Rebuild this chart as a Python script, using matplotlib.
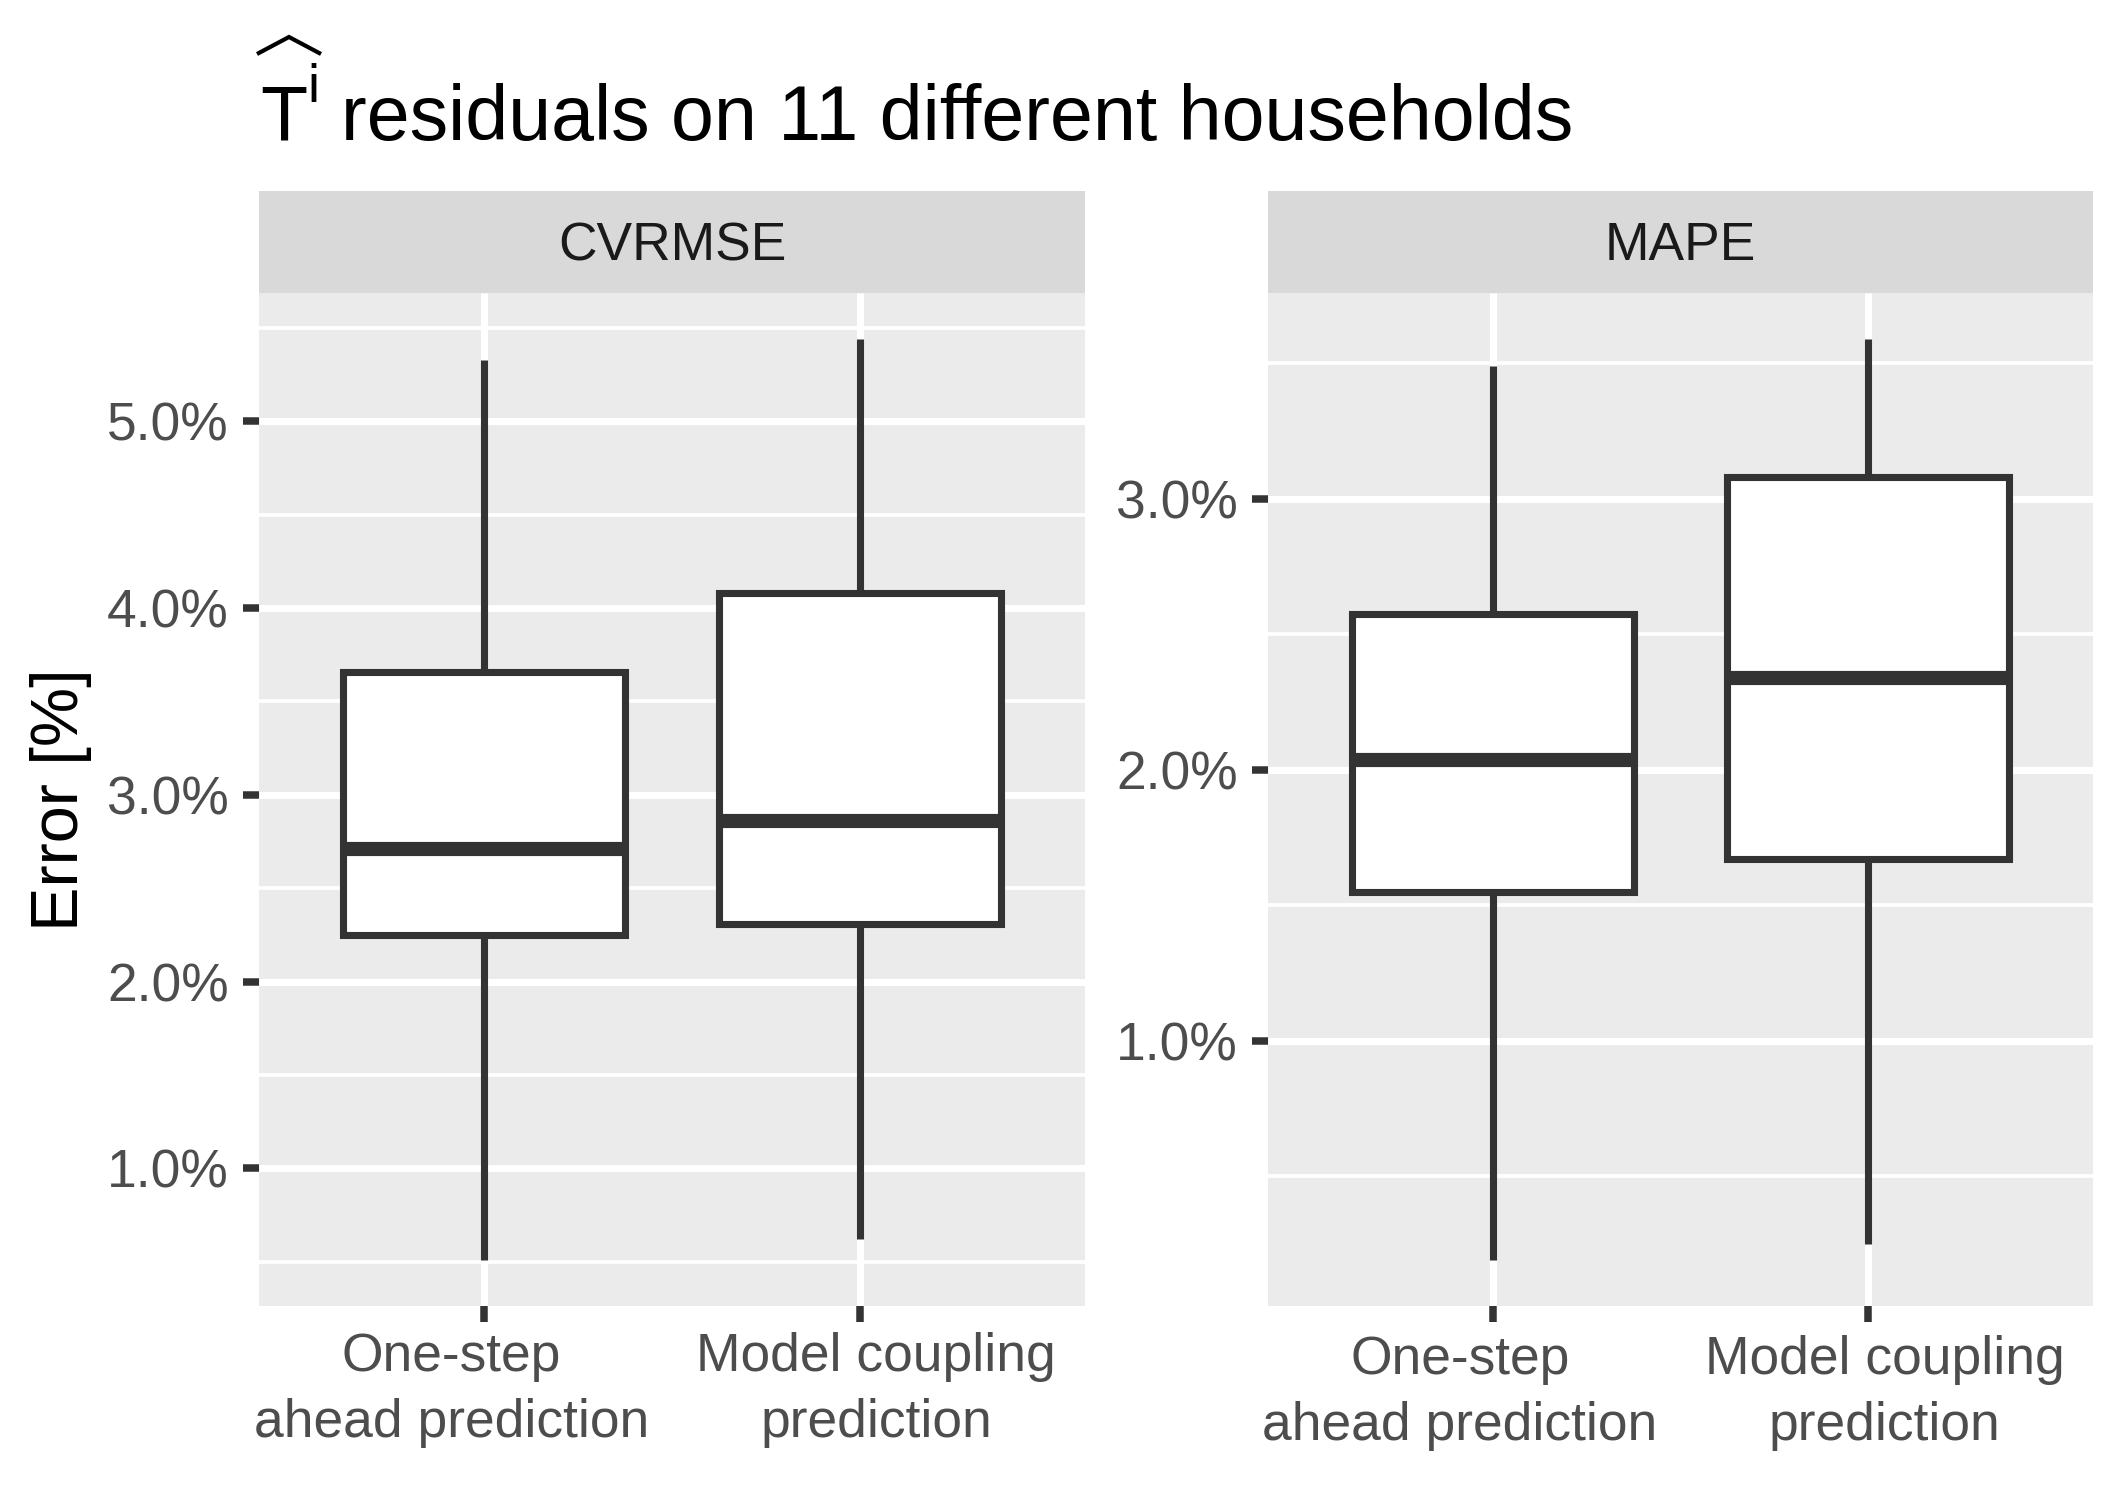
import matplotlib
matplotlib.use("Agg")
import matplotlib.pyplot as plt
from matplotlib.ticker import MultipleLocator, StrMethodFormatter
from matplotlib.transforms import ScaledTranslation
from matplotlib.lines import Line2D

plt.rcParams['font.family'] = ['Liberation Sans', 'DejaVu Sans']
plt.rcParams['lines.solid_capstyle'] = 'butt'

# ---- data (percent) ----
categories = ["One-step\nahead prediction", "Model coupling\nprediction"]
facets = ["CVRMSE", "MAPE"]

cvrmse_whislo = [0.51, 0.62]
cvrmse_q1 = [2.25, 2.31]
cvrmse_med = [2.71, 2.86]
cvrmse_q3 = [3.66, 4.08]
cvrmse_whishi = [5.33, 5.44]

mape_whislo = [0.19, 0.25]
mape_q1 = [1.55, 1.67]
mape_med = [2.035, 2.34]
mape_q3 = [2.575, 3.08]
mape_whishi = [3.49, 3.59]

title_symbol = "T"
title_sup = "i"
title_rest = "residuals on 11 different households"
ylabel = "Error [%]"

W, H = 2127, 1501
DPI = 300
fig = plt.figure(figsize=(W / DPI, H / DPI), dpi=DPI)

DARK = '#333333'
panel_bottom = 1 - 1306 / H
panel_h = (1306 - 293) / H
strip_bottom = 1 - 293 / H
strip_h = (293 - 191) / H
lefts = [259 / W, 1268 / W]
widths = [826 / W, 825 / W]
label_dy = [-26 / DPI, -29 / DPI]          # inches below panel
label_dx = [-33 / DPI, 16.5 / DPI]         # per-category horizontal shift

stats_sets = [
    (cvrmse_whislo, cvrmse_q1, cvrmse_med, cvrmse_q3, cvrmse_whishi),
    (mape_whislo, mape_q1, mape_med, mape_q3, mape_whishi),
]

for i, facet in enumerate(facets):
    lo, q1, med, q3, hi = stats_sets[i]
    ax = fig.add_axes([lefts[i], panel_bottom, widths[i], panel_h])
    ax.set_facecolor('#EBEBEB')
    for s in ax.spines.values():
        s.set_visible(False)
    positions = list(range(1, len(categories) + 1))
    stats = []
    for k in range(len(categories)):
        stats.append(dict(whislo=lo[k], q1=q1[k], med=med[k], q3=q3[k],
                          whishi=hi[k], fliers=[], label=categories[k]))
    ax.bxp(stats, positions=positions, widths=0.75, patch_artist=True,
           showcaps=False, showfliers=False,
           boxprops=dict(facecolor='white', edgecolor=DARK, linewidth=1.7),
           medianprops=dict(color=DARK, linewidth=3.4, solid_capstyle='butt'),
           whiskerprops=dict(color=DARK, linewidth=1.7))
    ymin, ymax = min(lo), max(hi)
    pad = 0.05 * (ymax - ymin)
    ax.set_ylim(ymin - pad, ymax + pad)
    ax.set_xlim(0.4, 2.6)
    ax.set_xticks(positions)
    ax.set_xticklabels([''] * len(categories))
    base_tr = ax.get_xaxis_transform()
    for k, cat in enumerate(categories):
        tr = base_tr + ScaledTranslation(label_dx[k], label_dy[i],
                                         fig.dpi_scale_trans)
        ax.text(positions[k], 0, cat, transform=tr, ha='center', va='top',
                multialignment='center', linespacing=1.42, fontsize=12.8,
                color='#4D4D4D', clip_on=False)
    ax.yaxis.set_major_locator(MultipleLocator(1.0))
    ax.yaxis.set_minor_locator(MultipleLocator(0.5))
    ax.yaxis.set_major_formatter(StrMethodFormatter('{x:.1f}%'))
    ax.set_axisbelow(True)
    ax.grid(which='major', color='white', linewidth=1.7)
    ax.grid(which='minor', axis='y', color='white', linewidth=0.9)
    ax.tick_params(which='major', length=3.84, width=1.8, color=DARK,
                   labelcolor='#4D4D4D', labelsize=12.8)
    ax.tick_params(axis='y', which='major', pad=3.4)
    ax.tick_params(which='minor', length=0)

    sax = fig.add_axes([lefts[i], strip_bottom, widths[i], strip_h])
    sax.set_facecolor('#D9D9D9')
    sax.set_xticks([])
    sax.set_yticks([])
    for s in sax.spines.values():
        s.set_visible(False)
    sax.text(0.5, 0.46, facet, transform=sax.transAxes, ha='center',
             va='center', fontsize=12.8, color='#1A1A1A')

fig.text(61 / W, panel_bottom + panel_h / 2, ylabel, rotation=90,
         ha='center', va='center', fontsize=16, color='black')

# title: hat(T)^i residuals ...
fig.text(260 / W, 1 - 140 / H, title_symbol, ha='left', va='baseline',
         fontsize=18.5, color='black')
fig.text(307 / W, 1 - 102 / H, title_sup, ha='left', va='baseline',
         fontsize=12.8, color='black')
fig.add_artist(Line2D([257 / W, 289 / W, 321 / W],
                      [1 - 54 / H, 1 - 37 / H, 1 - 54 / H],
                      transform=fig.transFigure, color='black',
                      linewidth=1.0, solid_joinstyle='miter'))
fig.text(341 / W, 1 - 140 / H, title_rest, ha='left', va='baseline',
         fontsize=18.5, color='black')

fig.savefig('out.png', dpi=DPI, facecolor='white')
